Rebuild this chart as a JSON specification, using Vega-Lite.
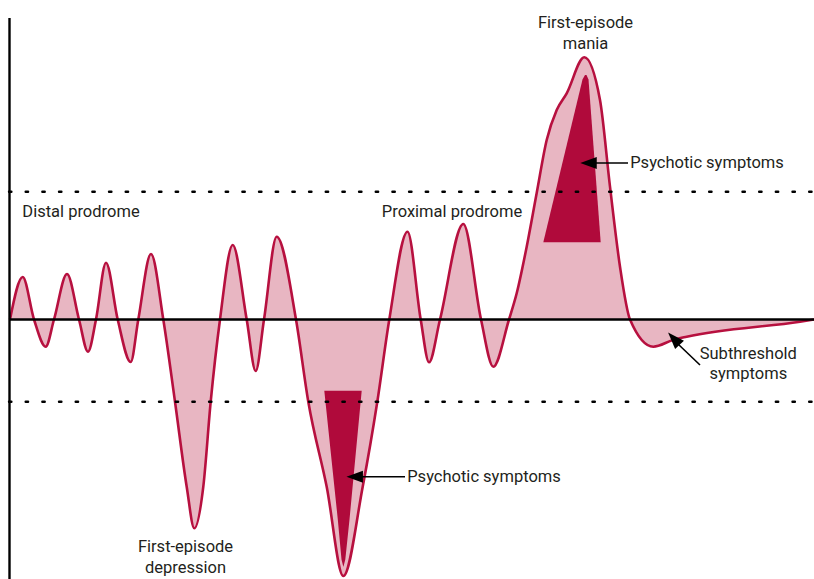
{
  "$schema": "https://vega.github.io/schema/vega-lite/v6.json",
  "autosize": {"type": "none"},
  "width": 814,
  "height": 579,
  "padding": 0,
  "background": "white",
  "config": {"view": {"stroke": null}},
  "datasets": {
    "curve": [
      {"t": 10, "s": 0}, {"t": 22.7, "s": 42.5}, {"t": 34, "s": 0}, {"t": 45.7, "s": -27.2}, {"t": 54, "s": 0},
      {"t": 67, "s": 45.5}, {"t": 79, "s": 0}, {"t": 88, "s": -32.2}, {"t": 96, "s": 0}, {"t": 106, "s": 56.8},
      {"t": 117.7, "s": 0}, {"t": 130.7, "s": -42.5}, {"t": 138.3, "s": 0}, {"t": 151, "s": 65.5}, {"t": 163.3, "s": 0},
      {"t": 175, "s": -82.2}, {"t": 186.7, "s": -167.2}, {"t": 194.3, "s": -208.8}, {"t": 203.3, "s": -167.2}, {"t": 210.7, "s": -82.2},
      {"t": 220, "s": 0}, {"t": 232.7, "s": 74.5}, {"t": 246.7, "s": 0}, {"t": 255.7, "s": -51.5}, {"t": 264, "s": 0},
      {"t": 276.7, "s": 82.8}, {"t": 296, "s": 0}, {"t": 308.3, "s": -82.2}, {"t": 326.7, "s": -167.2}, {"t": 343.3, "s": -256.5},
      {"t": 362.7, "s": -167.2}, {"t": 377.3, "s": -82.2}, {"t": 389.3, "s": 0}, {"t": 407.5, "s": 87.8}, {"t": 420.7, "s": 0},
      {"t": 429, "s": -42.8}, {"t": 440, "s": 0}, {"t": 463.3, "s": 95.5}, {"t": 481, "s": 0}, {"t": 493.3, "s": -47.2},
      {"t": 509, "s": 0}, {"t": 516.7, "s": 26.2}, {"t": 526.7, "s": 72.8}, {"t": 536.7, "s": 126.5}, {"t": 546.7, "s": 179.5},
      {"t": 556.7, "s": 209.5}, {"t": 566.7, "s": 226.2}, {"t": 584.3, "s": 262.2}, {"t": 600, "s": 219.5}, {"t": 610, "s": 132.8},
      {"t": 620, "s": 52.8}, {"t": 630, "s": 0}, {"t": 653.3, "s": -27.2}, {"t": 673, "s": -20.5}, {"t": 686.7, "s": -17.2},
      {"t": 800, "s": -2.2}, {"t": 814, "s": 0}
    ],
    "psychotic": [
      {"episode": "mania", "s": 77.2, "t1": 543.3, "t2": 600.7},
      {"episode": "mania", "s": 240, "t1": 582.5, "t2": 588.5},
      {"episode": "mania", "s": 244.5, "t1": 585, "t2": 586.5},
      {"episode": "depression", "s": -71.2, "t1": 324.3, "t2": 361.7},
      {"episode": "depression", "s": -200, "t1": 337.8, "t2": 349.5},
      {"episode": "depression", "s": -240, "t1": 341.5, "t2": 345.3},
      {"episode": "depression", "s": -247.2, "t1": 343.3, "t2": 343.4}
    ],
    "frame": [
      {"t1": 9.5, "s1": 301.5, "t2": 9.5, "s2": -259.5},
      {"t1": 10, "s1": 0, "t2": 814, "s2": 0}
    ],
    "thresholds": [
      {"t1": 9, "s1": 127.8, "t2": 814, "s2": 127.8},
      {"t1": 9, "s1": -82.2, "t2": 814, "s2": -82.2}
    ],
    "shafts": [
      {"t1": 595, "s1": 156.5, "t2": 628, "s2": 156.5},
      {"t1": 361, "s1": -157.2, "t2": 405, "s2": -157.2},
      {"t1": 678, "s1": -24.5, "t2": 700, "s2": -45.5}
    ],
    "heads": [
      {"t": 588.5, "s": 156.5, "dir": "left"},
      {"t": 354.7, "s": -157.2, "dir": "left"},
      {"t": 673.8, "s": -19.2, "dir": "upleft"}
    ],
    "labels": [
      {"t": 81, "s": 102.5, "text": "Distal prodrome"},
      {"t": 452, "s": 102.5, "text": "Proximal prodrome"},
      {"t": 585.5, "s": 291.2, "text": "First-episode"},
      {"t": 585.5, "s": 270.2, "text": "mania"},
      {"t": 707, "s": 151.2, "text": "Psychotic symptoms"},
      {"t": 185.5, "s": -232.8, "text": "First-episode"},
      {"t": 185.5, "s": -253, "text": "depression"},
      {"t": 484, "s": -162.8, "text": "Psychotic symptoms"},
      {"t": 748.3, "s": -39.8, "text": "Subthreshold"},
      {"t": 748.3, "s": -59.8, "text": "symptoms"}
    ]
  },
  "resolve": {"scale": {"x": "shared", "y": "shared"}},
  "layer": [
    {
      "data": {"name": "curve"},
      "mark": {"type": "area", "interpolate": "monotone", "color": "#e8b6c2", "opacity": 1},
      "encoding": {
        "x": {"field": "t", "type": "quantitative", "scale": {"domain": [0, 814], "nice": false, "zero": false}, "axis": null},
        "y": {"field": "s", "type": "quantitative", "scale": {"domain": [-259.5, 319.5], "nice": false, "zero": false}, "axis": null},
        "y2": {"datum": 0}
      }
    },
    {
      "data": {"name": "psychotic"},
      "mark": {"type": "area", "orient": "horizontal", "color": "#b00a3b", "opacity": 1},
      "encoding": {
        "y": {"field": "s", "type": "quantitative", "axis": null},
        "x": {"field": "t1", "type": "quantitative", "axis": null},
        "x2": {"field": "t2"},
        "detail": {"field": "episode"}
      }
    },
    {
      "data": {"name": "curve"},
      "mark": {"type": "line", "interpolate": "monotone", "color": "#b7103f", "strokeWidth": 2.6},
      "encoding": {
        "x": {"field": "t", "type": "quantitative", "axis": null},
        "y": {"field": "s", "type": "quantitative", "axis": null}
      }
    },
    {
      "data": {"name": "frame"},
      "mark": {"type": "rule", "color": "#000000", "strokeWidth": 2.4},
      "encoding": {
        "x": {"field": "t1", "type": "quantitative", "axis": null},
        "y": {"field": "s1", "type": "quantitative", "axis": null},
        "x2": {"field": "t2"},
        "y2": {"field": "s2"}
      }
    },
    {
      "data": {"name": "thresholds"},
      "mark": {"type": "rule", "color": "#000000", "strokeWidth": 2.4, "strokeDash": [2.4, 14.27], "strokeCap": "round"},
      "encoding": {
        "x": {"field": "t1", "type": "quantitative", "axis": null},
        "y": {"field": "s1", "type": "quantitative", "axis": null},
        "x2": {"field": "t2"},
        "y2": {"field": "s2"}
      }
    },
    {
      "data": {"name": "shafts"},
      "mark": {"type": "rule", "color": "#000000", "strokeWidth": 1.6},
      "encoding": {
        "x": {"field": "t1", "type": "quantitative", "axis": null},
        "y": {"field": "s1", "type": "quantitative", "axis": null},
        "x2": {"field": "t2"},
        "y2": {"field": "s2"}
      }
    },
    {
      "data": {"name": "heads"},
      "transform": [{"filter": "datum.dir === 'left'"}],
      "mark": {"type": "point", "shape": "M-1,0L1,-0.72L1,0.72Z", "filled": true, "color": "#000000", "opacity": 1, "size": 272, "strokeWidth": 0},
      "encoding": {
        "x": {"field": "t", "type": "quantitative", "axis": null},
        "y": {"field": "s", "type": "quantitative", "axis": null}
      }
    },
    {
      "data": {"name": "heads"},
      "transform": [{"filter": "datum.dir === 'upleft'"}],
      "mark": {"type": "point", "shape": "M-1,0L1,-0.72L1,0.72Z", "filled": true, "color": "#000000", "opacity": 1, "size": 282, "strokeWidth": 0, "angle": 47},
      "encoding": {
        "x": {"field": "t", "type": "quantitative", "axis": null},
        "y": {"field": "s", "type": "quantitative", "axis": null}
      }
    },
    {
      "data": {"name": "labels"},
      "mark": {"type": "text", "align": "center", "baseline": "alphabetic", "font": "Roboto", "fontSize": 16.5, "color": "#231f20"},
      "encoding": {
        "x": {"field": "t", "type": "quantitative", "axis": null},
        "y": {"field": "s", "type": "quantitative", "axis": null},
        "text": {"field": "text"}
      }
    }
  ]
}
